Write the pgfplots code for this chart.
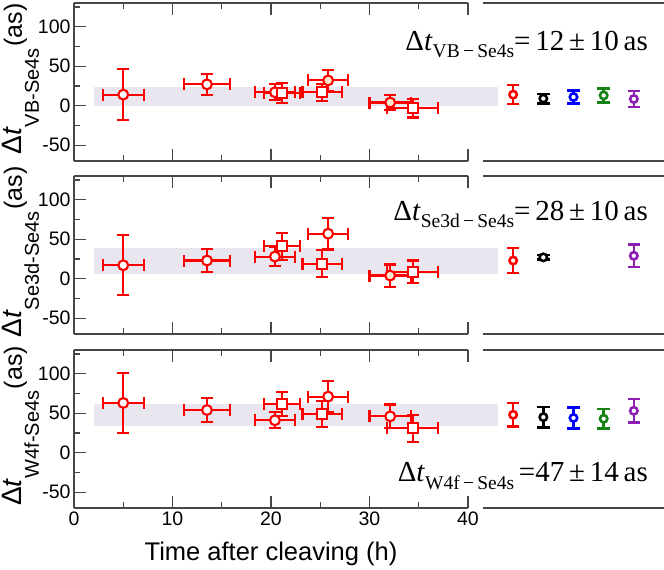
\documentclass[border=0pt]{standalone}
\usepackage{fontspec}
\setmainfont{Liberation Sans}
\newfontfamily\timesf{Liberation Serif}
\usepackage{pgfplots}
\pgfplotsset{compat=1.18}

\definecolor{band}{RGB}{233,230,239}
\definecolor{cream}{RGB}{253,234,205}
\definecolor{myred}{RGB}{255,0,0}
\definecolor{myblue}{RGB}{0,0,255}
\definecolor{mygreen}{RGB}{20,130,20}
\definecolor{mypurple}{RGB}{140,30,180}
\definecolor{axgray}{RGB}{70,70,70}

\pgfplotsset{
 mainax/.style={scale only axis, width=394pt, height=158pt,
   xmin=0, xmax=40, ymin=-70, ymax=130,
   axis x line=box, axis y line=left,
   axis line style={-, axgray, line width=1.3pt},
   tick style={axgray, line width=1.3pt}, tick align=inside,
   major tick length=12pt, minor tick length=6pt,
   xtick={0,10,20,30,40}, minor xtick={5,15,25,35},
   ytick={-50,0,50,100}, minor ytick={-25,25,75,125},
   clip=false,
   tick label style={font=\fontsize{19.5}{21}\selectfont},
   /pgf/number format/assume math mode=true,
   ylabel style={at={(axis description cs:0,0.5)}, anchor=base, yshift=52pt, xshift=3pt}},
 rightax/.style={scale only axis, width=181pt, height=158pt,
   xmin=0, xmax=6, ymin=-70, ymax=130,
   axis x line=box, axis y line=none,
   axis line style={-, axgray, line width=1.3pt},
   xtick=\empty, ytick=\empty, clip=false},
 errpts/.style={only marks, line width=2.1pt, mark size=4.9pt,
   error bars/x dir=both, error bars/x explicit,
   error bars/y dir=both, error bars/y explicit,
   error bars/error bar style={line width=2.1pt},
   error bars/error mark options={rotate=90, line width=2.1pt, mark size=6pt}},
 rerr/.style={only marks, mark=*, line width=2.6pt, mark size=3.7pt,
   mark options={fill=white},
   error bars/y dir=both, error bars/y explicit,
   error bars/error bar style={line width=2.6pt},
   error bars/error mark options={rotate=90, line width=2.6pt, mark size=6.3pt}},
}

\newcommand{\ylab}[1]{{\fontsize{28}{28}\selectfont Δ\textit{t}}\raisebox{-17pt}{\fontsize{20}{20}\selectfont #1}\,{\fontsize{25}{25}\selectfont (as)}}

\begin{document}
\begin{tikzpicture}
\useasboundingbox (-74pt,-62pt) rectangle (590pt,508pt);

% ---------------- Panel 1 ----------------
\begin{axis}[mainax, at={(0pt,347pt)}, anchor=south west, xticklabels={},
  ylabel={\ylab{VB-Se4s}}]
\addplot[draw=none, fill=band] coordinates {(2,0)(43,0)(43,24)(2,24)};
\addplot[errpts, myred, mark=*, mark options={fill=white}]
 table[x=x, y=y, x error=ex, y error=ey] {
x y ex ey
5 14 2.1 32
13.5 27 2.35 13
20.4 17 2.0 10
};
\addplot[errpts, myred, mark=*, mark options={fill=cream}]
 table[x=x, y=y, x error=ex, y error=ey] {
x y ex ey
25.8 32 2.0 13
32.1 4 2.1 10
};
\addplot[errpts, myred, mark=square*, mark options={fill=white}]
 table[x=x, y=y, x error=ex, y error=ey] {
x y ex ey
21.1 16 1.8 13
25.2 17 2.0 11
34.4 -3 2.6 12
};
\end{axis}
\begin{axis}[rightax, at={(409pt,347pt)}, anchor=south west]
\addplot[rerr, myred] table[x=x, y=y, y error=ey] {
x y ey
1 14 12
};
\addplot[rerr, black] table[x=x, y=y, y error=ey] {
x y ey
2 9 6
};
\addplot[rerr, myblue] table[x=x, y=y, y error=ey] {
x y ey
3 11 8
};
\addplot[rerr, mygreen] table[x=x, y=y, y error=ey] {
x y ey
4 13 9
};
\addplot[rerr, mypurple] table[x=x, y=y, y error=ey] {
x y ey
5 8.5 10
};
\node[anchor=base east, inner sep=0pt] at (rel axis cs:0.912,0.698)
 {\timesf\fontsize{29}{30}\selectfont Δ\textit{t}\raisebox{-7pt}{\fontsize{19.5}{20}\selectfont VB\,−\,Se4s}=\,12\,±\,10\,as};
\end{axis}

% ---------------- Panel 2 ----------------
\begin{axis}[mainax, at={(0pt,174pt)}, anchor=south west, xticklabels={},
  ylabel={\ylab{Se3d-Se4s}}]
\addplot[draw=none, fill=band] coordinates {(2,6)(43,6)(43,39)(2,39)};
\addplot[errpts, myred, mark=*, mark options={fill=white}]
 table[x=x, y=y, x error=ex, y error=ey] {
x y ex ey
5 17 2.1 38
13.5 23 2.35 14.5
20.4 28 2.0 12
25.8 57 2.0 20
};
\addplot[errpts, myred, mark=*, mark options={fill=cream}]
 table[x=x, y=y, x error=ex, y error=ey] {
x y ex ey
32.1 4 2.1 14
};
\addplot[errpts, myred, mark=square*, mark options={fill=white}]
 table[x=x, y=y, x error=ex, y error=ey] {
x y ex ey
21.1 41 1.8 17
25.2 19 2.0 17
34.4 8.5 2.6 14.5
};
\end{axis}
\begin{axis}[rightax, at={(409pt,174pt)}, anchor=south west]
\addplot[rerr, myred] table[x=x, y=y, y error=ey] {
x y ey
1 23 16
};
\addplot[rerr, black] table[x=x, y=y, y error=ey] {
x y ey
2 27 3
};
\addplot[rerr, mypurple] table[x=x, y=y, y error=ey] {
x y ey
5 29 14
};
\node[anchor=base east, inner sep=0pt] at (rel axis cs:0.912,0.717)
 {\timesf\fontsize{29}{30}\selectfont Δ\textit{t}\raisebox{-7pt}{\fontsize{19.5}{20}\selectfont Se3d\,−\,Se4s}=\,28\,±\,10\,as};
\end{axis}

% ---------------- Panel 3 ----------------
\begin{axis}[mainax, at={(0pt,0pt)}, anchor=south west,
  ylabel={\ylab{W4f-Se4s}},
  xlabel={Time after cleaving (h)},
  xlabel style={at={(axis description cs:0.5,0)}, anchor=base, yshift=-52pt, font=\fontsize{25.5}{26}\selectfont}]
\addplot[draw=none, fill=band] coordinates {(2,34)(43,34)(43,62)(2,62)};
\addplot[errpts, myred, mark=*, mark options={fill=white}]
 table[x=x, y=y, x error=ex, y error=ey] {
x y ex ey
5 63 2.1 38
13.5 54 2.35 15
20.4 41 2.0 10
25.8 71 2.0 20
32.1 46 2.1 15
};
\addplot[errpts, myred, mark=square*, mark options={fill=white}]
 table[x=x, y=y, x error=ex, y error=ey] {
x y ex ey
21.1 62 1.8 15
25.2 49 2.0 17
34.4 31 2.6 17
};
\end{axis}
\begin{axis}[rightax, at={(409pt,0pt)}, anchor=south west]
\addplot[rerr, myred] table[x=x, y=y, y error=ey] {
x y ey
1 48 15
};
\addplot[rerr, black] table[x=x, y=y, y error=ey] {
x y ey
2 45 13
};
\addplot[rerr, myblue] table[x=x, y=y, y error=ey] {
x y ey
3 44 13.5
};
\addplot[rerr, mygreen] table[x=x, y=y, y error=ey] {
x y ey
4 43 12.5
};
\addplot[rerr, mypurple] table[x=x, y=y, y error=ey] {
x y ey
5 53 15
};
\node[anchor=base east, inner sep=0pt] at (rel axis cs:0.912,0.166)
 {\timesf\fontsize{29}{30}\selectfont Δ\textit{t}\raisebox{-8pt}{\fontsize{19.5}{20}\selectfont W4f\,−\,Se4s}\,=47\,±\,14\,as};
\end{axis}
\end{tikzpicture}
\end{document}
